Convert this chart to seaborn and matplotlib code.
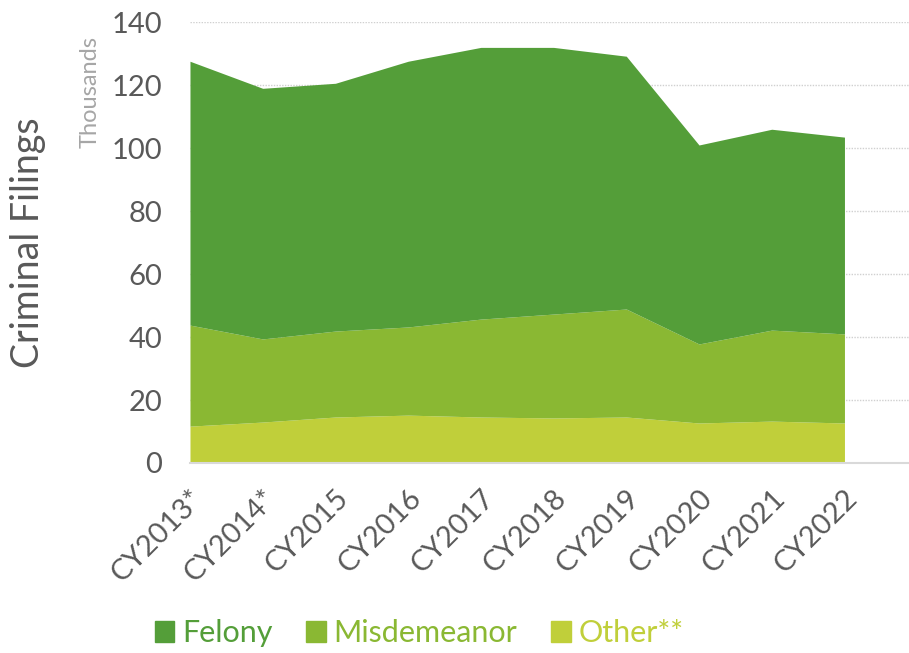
import numpy as np
import pandas as pd
import matplotlib
matplotlib.use("Agg")
import matplotlib.pyplot as plt
from matplotlib.patches import Patch
import seaborn as sns

years = ["CY2013*", "CY2014*", "CY2015", "CY2016", "CY2017",
         "CY2018", "CY2019", "CY2020", "CY2021", "CY2022"]
# values in thousands
other = [11.7, 13.0, 14.6, 15.2, 14.6, 14.3, 14.6, 12.7, 13.3, 12.7]
misdemeanor = [32.1, 26.4, 27.3, 28.0, 31.1, 33.0, 34.3, 25.1, 28.9, 28.3]
felony = [83.8, 79.6, 78.7, 84.4, 86.3, 84.7, 80.3, 63.2, 63.8, 62.5]

df = pd.DataFrame({"year": years, "Other**": other,
                   "Misdemeanor": misdemeanor, "Felony": felony})

sns.set_style("white")
plt.rcParams["font.family"] = ["Lato", "DejaVu Sans"]

colors = {"Felony": "#549E39", "Misdemeanor": "#8AB833", "Other**": "#C0CF3A"}
txt = "#595959"

fig = plt.figure(figsize=(9.09, 6.53), dpi=100)
ax = fig.add_axes([0.209, 0.291, 0.80, 0.675])

x = np.arange(len(df))
ax.stackplot(x, df["Other**"], df["Misdemeanor"], df["Felony"],
             colors=[colors["Other**"], colors["Misdemeanor"], colors["Felony"]],
             linewidth=0)

ax.set_xlim(0, 10)
ax.set_ylim(0, 140)
ax.set_yticks(range(0, 141, 20))
ax.yaxis.grid(True, color="#D0D0D0", linestyle=(0, (1, 1)), linewidth=1)
ax.set_axisbelow(True)
for s in ["top", "right", "left"]:
    ax.spines[s].set_visible(False)
ax.spines["bottom"].set_color("#D9D9D9")
ax.spines["bottom"].set_linewidth(1.5)

ax.set_xticks(x)
ax.set_xticklabels(df["year"], rotation=45, ha="right", rotation_mode="anchor")
ax.tick_params(axis="x", length=0, pad=16, labelsize=21, labelcolor=txt)
ax.tick_params(axis="y", length=0, pad=20, labelsize=21, labelcolor=txt)

fig.text(28 / 909, 1 - 243 / 653, "Criminal Filings", rotation=90,
         ha="center", va="center", fontsize=27, color=txt)
fig.text(90 / 909, 1 - 92 / 653, "Thousands", rotation=90, ha="center",
         va="center", fontsize=17, color="#A6A6A6")

names = ["Felony", "Misdemeanor", "Other**"]
handles = [Patch(color=colors[k]) for k in names]
leg = fig.legend(handles, names, ncol=3,
                 loc="center", bbox_to_anchor=(0.461, 0.03), frameon=False,
                 fontsize=22, handlelength=0.65, handleheight=0.65,
                 handletextpad=0.25, columnspacing=1.1)
for t, k in zip(leg.get_texts(), names):
    t.set_color(colors[k])

fig.savefig("out.png", dpi=100)
